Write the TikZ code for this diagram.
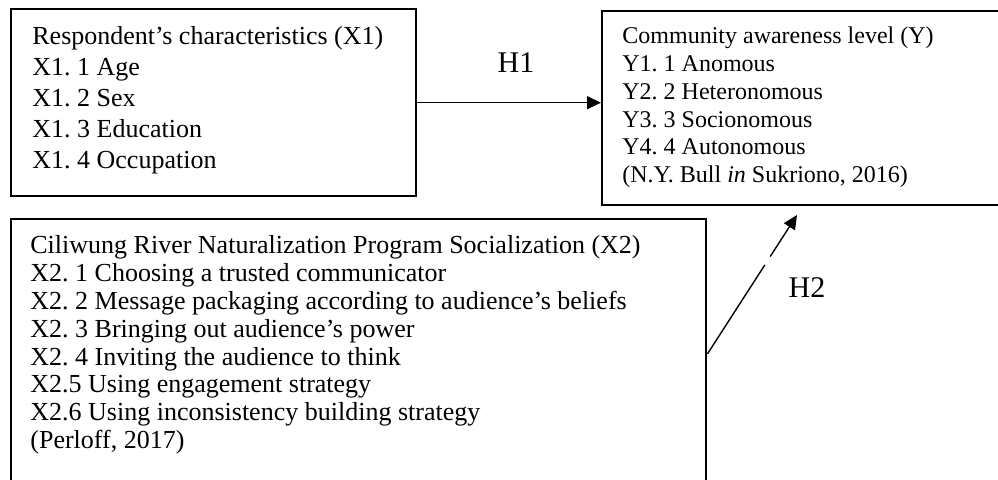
\documentclass[tikz,border=0pt]{standalone}
\usepackage{fontspec}
\setmainfont{Liberation Serif}
\frenchspacing
\usetikzlibrary{arrows.meta,calc}

\begin{document}
\begin{tikzpicture}[
        x=0.5pt, y=-0.5pt,
        box/.style={draw, line width=1.2pt, inner sep=0pt, anchor=north west},
        txt/.style={anchor=north west, align=left, inner sep=0pt},
        bigtxt/.style={font=\fontsize{13}{15.4}\selectfont},
        smalltxt/.style={font=\fontsize{12}{13.9}\selectfont},
        widetxt/.style={font=\fontsize{13}{13.9}\selectfont},
        hyp/.style={font=\fontsize{15}{18}\selectfont},
        arr/.style={line width=0.7pt, -{Triangle[length=7pt, width=6.5pt]}}
    ]
    \useasboundingbox (0,0) rectangle (998,479);
    \clip (0,0) rectangle (998,479);

    % boxes
    \node [box, minimum width=202.5pt, minimum height=93.5pt] (x1) at (10,8) {};
    \node [box, minimum width=204.5pt, minimum height=97pt] (y) at (601,10) {};
    \node [box, minimum width=347.5pt, minimum height=141pt] (x2) at (10,218) {};

    % box texts
    \node [txt, bigtxt] (x1txt) at (32,26.5) {Respondent's characteristics (X1)\\
        X1. 1 Age\\
        X1. 2 Sex\\
        X1. 3 Education\\
        X1. 4 Occupation};
    \node [txt, smalltxt] (ytxt) at (622,26.7) {Community awareness level (Y)\\
        Y1. 1 Anomous\\
        Y2. 2 Heteronomous\\
        Y3. 3 Socionomous\\
        Y4. 4 Autonomous\\
        (N.Y. Bull \textit{in} Sukriono, 2016)};
    \node [txt, widetxt] (x2txt) at (30,235.5) {Ciliwung River Naturalization Program Socialization (X2)\\
        X2. 1 Choosing a trusted communicator\\
        X2. 2 Message packaging according to audience's beliefs\\
        X2. 3 Bringing out audience's power\\
        X2. 4 Inviting the audience to think\\
        X2.5 Using engagement strategy\\
        X2.6 Using inconsistency building strategy\\
        (Perloff, 2017)};

    % hypotheses
    \node [hyp] (h1) at (516,63) {H1};
    \node [hyp] (h2) at (807,288) {H2};

    \coordinate (h2start) at ($(x2.north east)+(0,136)$);
    \coordinate (h2end) at (797,215);

    \draw [arr] (x1.east) -- (x1.east -| y.west);
    \draw [arr, dash pattern=on 53pt off 5pt on 60pt] (h2start) -- (h2end);
\end{tikzpicture}
\end{document}
